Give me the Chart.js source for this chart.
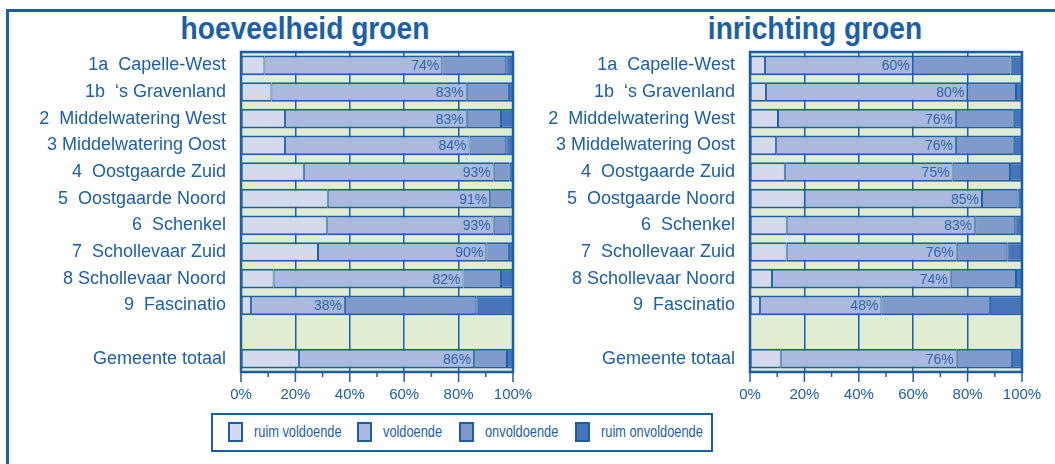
<!DOCTYPE html>
<html>
<head>
<meta charset="utf-8">
<script src="https://cdn.jsdelivr.net/npm/chart.js@4/dist/chart.umd.min.js"></script>
<style>
  body {
    margin: 0;
    width: 1055px;
    height: 464px;
    overflow: hidden;
    background: #fff;
    position: relative;
    font-family: "Liberation Sans", Arial, sans-serif;
    color: #1b5faa;
  }
  .frame {
    position: absolute;
    left: 6px;
    top: 9px;
    right: -10px;
    bottom: -10px;
    border-top: 3px solid #1a5ea8;
    border-left: 3px solid #1a5ea8;
  }
  .pagetitle {
    position: absolute;
    left: 556px;
    top: -37px;
    font-weight: bold;
    font-size: 34px;
    line-height: 1;
    white-space: nowrap;
  }
  .title {
    position: absolute;
    top: 12px;
    width: 400px;
    text-align: center;
    font-weight: bold;
    font-size: 32px;
    line-height: 1;
    transform: scaleX(0.88);
  }
  canvas { position: absolute; top: 40px; }
  .legend {
    position: absolute;
    left: 211px;
    top: 413px;
    width: 498px;
    height: 35px;
    border: 2px solid #1a5ea8;
  }
  .legend .item { position: absolute; top: 7px; height: 20px; }
  .legend .sw {
    position: absolute;
    left: 0;
    top: 0;
    width: 11px;
    height: 16px;
    border: 2px solid #1a5ea8;
  }
  .legend .txt {
    position: absolute;
    left: 26px;
    top: 1px;
    font-size: 16px;
    white-space: nowrap;
    transform: scaleX(0.8);
    transform-origin: left center;
  }
</style>
</head>
<body>
<div class="pagetitle">inrichting groen per wijk</div>
<div class="frame"></div>
<div class="title" style="left:105px">hoeveelheid groen</div>
<div class="title" style="left:615px">inrichting groen</div>
<canvas id="leftChart" width="540" height="370" style="left:0px"></canvas>
<canvas id="rightChart" width="540" height="370" style="left:510px"></canvas>
<div class="legend" id="legend"></div>

<script>
const regions = [
  "1a  Capelle-West",
  "1b  \u2018s Gravenland",
  "2  Middelwatering West",
  "3 Middelwatering Oost",
  "4  Oostgaarde Zuid",
  "5  Oostgaarde Noord",
  "6  Schenkel",
  "7  Schollevaar Zuid",
  "8 Schollevaar Noord",
  "9  Fascinatio",
  "",
  "Gemeente totaal",
];

const seriesNames = ["ruim voldoende", "voldoende", "onvoldoende", "ruim onvoldoende"];
const seriesColors = ["#d4d9ec", "#aab9dd", "#7f9acb", "#4874ba"];

// hoeveelheid groen (percentages)
const hoevRuimVoldoende = [8.6, 11.2, 16.2, 16.2, 23.1, 31.9, 31.7, 28.3, 12, 3.7, null, 21.3];
const hoevVoldoende = [65.4, 71.8, 66.8, 67.8, 69.8, 59.7, 61.2, 61.9, 69.8, 34.5, null, 64.4];
const hoevOnvoldoende = [23.5, 15.5, 12.6, 13.5, 5.9, 8, 6.1, 8.3, 13.8, 48.3, null, 12.1];
const hoevRuimOnvoldoende = [2.5, 1.5, 4.4, 2.5, 1.2, 0.4, 1, 1.5, 4.4, 13.5, null, 2.2];
const hoevLabels = [74, 83, 83, 84, 93, 91, 93, 90, 82, 38, null, 86];

// inrichting groen (percentages)
const inrRuimVoldoende = [5.5, 5.9, 10.3, 9.6, 12.8, 20.1, 13.5, 13.5, 8.1, 3.7, null, 11.3];
const inrVoldoende = [54.3, 74, 65.4, 66.1, 61.7, 65.2, 69.3, 62.5, 65.7, 44.6, null, 64.7];
const inrOnvoldoende = [36, 17.9, 21.3, 21.3, 21.1, 13, 14.7, 18.6, 24, 39.9, null, 20.3];
const inrRuimOnvoldoende = [4.2, 2.2, 3, 3, 4.4, 1.7, 2.5, 5.4, 2.2, 11.8, null, 3.7];
const inrLabels = [60, 80, 76, 76, 75, 85, 83, 76, 74, 48, null, 76];

const blue = "#1a5ea8";
const textBlue = "#1b5faa";
const green = "#e0edd2";
const fontFamily = '"Liberation Sans", Arial, sans-serif';

const panelPlugin = {
  id: "panel",
  beforeDraw(chart) {
    const { ctx, chartArea: a } = chart;
    ctx.save();
    ctx.fillStyle = green;
    ctx.fillRect(a.left, a.top, a.right - a.left, a.bottom - a.top);
    ctx.restore();
  },
  afterDatasetsDraw(chart, args, opts) {
    const { ctx } = chart;
    const meta = chart.getDatasetMeta(1);
    ctx.save();
    ctx.font = "14px " + fontFamily;
    ctx.fillStyle = "#2a65ad";
    ctx.textAlign = "right";
    ctx.textBaseline = "middle";
    opts.labels.forEach((v, i) => {
      if (v == null) return;
      const el = meta.data[i];
      ctx.fillText(v + "%", el.x - 3, el.y + 1);
    });
    ctx.restore();
  },
  afterDraw(chart) {
    const { ctx, chartArea: a } = chart;
    const x = chart.scales.x;
    ctx.save();
    ctx.strokeStyle = blue;
    ctx.lineWidth = 2.5;
    ctx.strokeRect(a.left, a.top, a.right - a.left, a.bottom - a.top);
    ctx.lineWidth = 1.5;
    x.ticks.forEach((t) => {
      const px = x.getPixelForValue(t.value);
      const len = t.value % 20 === 0 ? 10 : 5;
      ctx.beginPath();
      ctx.moveTo(px, a.bottom);
      ctx.lineTo(px, a.bottom + len);
      ctx.stroke();
    });
    ctx.restore();
  },
};

function makeChart(id, seriesData, labels, axisWidth, padRight) {
  return new Chart(document.getElementById(id), {
    type: "bar",
    data: {
      labels: regions,
      datasets: seriesData.map((d, i) => ({
        label: seriesNames[i],
        data: d,
        backgroundColor: seriesColors[i],
        borderColor: blue,
        borderWidth: { top: 2, bottom: 2, left: 1, right: 1 },
        borderSkipped: false,
        barPercentage: 0.74,
        categoryPercentage: 1,
      })),
    },
    options: {
      indexAxis: "y",
      responsive: false,
      animation: false,
      devicePixelRatio: 1,
      layout: { padding: { top: 12, right: padRight, left: 0, bottom: 0 } },
      scales: {
        x: {
          stacked: true,
          min: 0,
          max: 100,
          afterFit: (s) => {
            s.height = 38;
            s.paddingLeft = 0;
            s.paddingRight = 0;
          },
          grid: {
            color: (c) => (c.tick && c.tick.value % 20 === 0 ? blue : "rgba(0,0,0,0)"),
            lineWidth: 1.5,
            drawTicks: false,
          },
          border: { display: false },
          ticks: {
            stepSize: 10,
            autoSkip: false,
            maxRotation: 0,
            padding: 14,
            color: textBlue,
            font: { size: 15, family: fontFamily },
            callback: (v) => (v % 20 === 0 ? v + "%" : ""),
          },
        },
        y: {
          stacked: true,
          afterFit: (s) => {
            s.width = axisWidth;
            s.paddingTop = 0;
            s.paddingBottom = 0;
          },
          grid: { display: false },
          border: { display: false },
          ticks: {
            autoSkip: false,
            padding: 7,
            color: textBlue,
            font: { size: 18, family: fontFamily },
          },
        },
      },
      plugins: {
        legend: { display: false },
        tooltip: { enabled: false },
        panel: { labels: labels },
      },
    },
    plugins: [panelPlugin],
  });
}

makeChart(
  "leftChart",
  [hoevRuimVoldoende, hoevVoldoende, hoevOnvoldoende, hoevRuimOnvoldoende],
  hoevLabels,
  241,
  27
);
makeChart(
  "rightChart",
  [inrRuimVoldoende, inrVoldoende, inrOnvoldoende, inrRuimOnvoldoende],
  inrLabels,
  240,
  28
);

// legend
const legendPos = [[15, 41], [144, 170], [246, 272], [362, 388]];
const legend = document.getElementById("legend");
seriesNames.forEach((name, i) => {
  const item = document.createElement("div");
  item.className = "item";
  item.style.left = legendPos[i][0] + "px";
  const sw = document.createElement("div");
  sw.className = "sw";
  sw.style.background = seriesColors[i];
  const txt = document.createElement("div");
  txt.className = "txt";
  txt.style.left = (legendPos[i][1] - legendPos[i][0]) + "px";
  txt.textContent = name;
  item.appendChild(sw);
  item.appendChild(txt);
  legend.appendChild(item);
});
</script>
</body>
</html>
